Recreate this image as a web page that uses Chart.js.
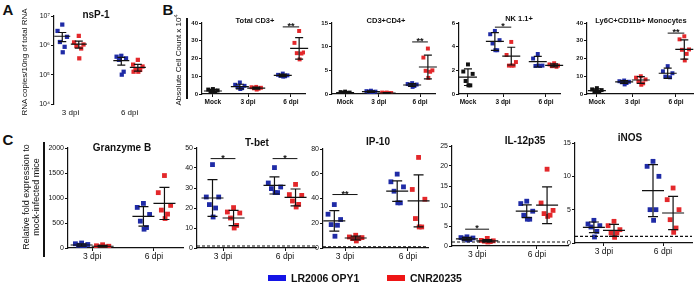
<!DOCTYPE html>
<html>
<head>
<meta charset="utf-8">
<script src="https://cdn.jsdelivr.net/npm/chart.js@4.4.1/dist/chart.umd.min.js"></script>
<style>
  body { margin: 0; background: #fff; }
  #fig { position: relative; width: 696px; height: 285px; overflow: hidden;
         font-family: "Liberation Sans", Arial, sans-serif; color: #111; }
  #fig canvas { position: absolute; }
  .t { position: absolute; font-weight: bold; white-space: nowrap; transform: translate(-50%, -50%); }
  .v { position: absolute; white-space: nowrap; text-align: center; line-height: 1.15;
       transform: translate(-50%, -50%) rotate(-90deg); }
  .bar { position: absolute; background: #111; }
  .key { position: absolute; }
</style>
</head>
<body>
<div id="fig"></div>
<script>
// ---- data ----
const dpiLabels = ['3 dpi', '6 dpi'];
const cellLabels = ['Mock', '3 dpi', '6 dpi'];
const strainNames = ['LR2006 OPY1', 'CNR20235'];

// A: nsP-1 (RNA copies / 10 ng)
const nsp1Blue = [[5.1e6, 3.1e6, 1.95e6, 1.3e6, 8.9e5, 5.8e5], [4.4e5, 4.1e5, 3.6e5, 3.2e5, 1.26e5, 1.0e5]];
const nsp1Red = [[2.1e6, 1.26e6, 1.07e6, 9.5e5, 7.8e5, 3.6e5], [3.2e5, 2.2e5, 1.9e5, 1.5e5, 1.45e5, 1.26e5, 1.26e5]];
const nsp1BlueMean = [2.04e6, 3.0e5], nsp1BlueErr = [0.7e6, 0.9e5];
const nsp1RedMean = [1.1e6, 1.78e5], nsp1RedErr = [0.3e6, 0.45e5];

// B: absolute cell counts x 10^4
const cd3Mock = [2.8, 2.5, 2.0, 1.5, 1.0, 0.6];
const cd3Blue = [[6.5, 5.2, 4.6, 3.9, 3.3, 2.8], [11.5, 10.8, 10.5, 10.2, 10.0, 9.8]];
const cd3Red = [[4.0, 3.8, 3.5, 3.2, 3.0, 2.5], [35.5, 28.8, 23.4, 23.0, 22.8, 19.5]];
const cd3Mean = [[1.7], [4.2, 10.5], [3.3, 25.7]], cd3Sd = [[0.9], [1.3, 0.7], [0.6, 6.1]];

const cd4Mock = [0.5, 0.4, 0.3, 0.2, 0.2, 0.1];
const cd4Blue = [[0.7, 0.6, 0.5, 0.5, 0.4, 0.3], [2.3, 2.1, 2.0, 1.9, 1.7, 1.5]];
const cd4Red = [[0.3, 0.3, 0.2, 0.2, 0.2, 0.1], [9.6, 7.7, 5.0, 4.9, 4.7, 3.4]];
const cd4Mean = [[0.3], [0.5, 1.9], [0.2, 5.7]], cd4Sd = [[0.15], [0.15, 0.3], [0.08, 2.5]];

const nkMock = [2.5, 1.9, 1.7, 1.1, 0.73, 0.73];
const nkBlue = [[5.33, 5.05, 4.55, 4.27, 3.7, 3.7], [3.38, 3.0, 2.4, 2.37, 2.37, 2.4]];
const nkRed = [[4.4, 3.3, 2.7, 2.4, 2.4, 2.4], [2.6, 2.5, 2.4, 2.35, 2.3, 2.4]];
const nkMean = [[1.42], [4.44, 2.73], [3.2, 2.42]], nkSd = [[0.7], [0.75, 0.45], [0.75, 0.12]];

const monoMock = [3.3, 2.6, 2.2, 1.6, 1.0, 0.6];
const monoBlue = [[7.6, 7.2, 6.9, 6.6, 6.2, 5.4], [15.7, 12.8, 11.7, 9.8, 9.4]];
const monoRed = [[10.0, 9.2, 8.2, 7.0, 6.0, 5.2], [32.5, 30.8, 25.1, 24.9, 22.6, 18.9]];
const monoMean = [[1.9], [6.8, 11.7], [7.9, 25.1]], monoSd = [[1.0], [0.8, 2.9], [1.9, 5.4]];

// C: relative fold expression
const gzmBlue = [[100, 85, 70, 55, 40, 30], [892, 812, 671, 537, 409, 376]];
const gzmRed = [[65, 45, 35, 25, 20, 15], [1449, 1107, 852, 758, 678, 590]];
const gzmMean = [[60, 631], [35, 892]], gzmSd = [[25, 195], [18, 322]];

const tbetBlue = [[41.7, 25.5, 25.5, 21.7, 20, 15.5], [40.2, 32.5, 30.5, 29.7, 27.7, 27.7]];
const tbetRed = [[20.2, 18, 17.5, 15, 11.3, 10], [31.8, 26.7, 26.3, 23.5, 21.8, 20.5]];
const tbetMean = [[25, 31.3], [15, 25.3]], tbetSd = [[9.2, 4.3], [3.8, 4.2]];

const ip10Blue = [[35.1, 27.3, 23, 18.9, 18.4, 9.5], [59.7, 53.5, 49.4, 45.9, 36.5, 36.5]];
const ip10Red = [[10.3, 8.9, 8.4, 7.6, 7.6, 5.7], [73.2, 47.3, 39.4, 23.8, 17, 17]];
const ip10Mean = [[21.9, 45.9], [8.1, 38.1]], ip10Sd = [[8.3, 8.3], [1.5, 21]];

const il12Blue = [[2.3, 2.1, 2.0, 1.8, 1.6, 1.5], [11.2, 10.6, 8.7, 7.7, 6.7, 6.7]];
const il12Red = [[1.9, 1.4, 1.3, 1.2, 1.1, 1.0], [19.2, 10.75, 8.9, 8.1, 7.7, 7.4]];
const il12Mean = [[1.8, 8.7], [1.3, 10.2]], il12Sd = [[0.35, 1.6], [0.3, 4.6]];

const inosBlue = [[3.4, 2.85, 2.6, 2.4, 1.75, 0.9], [12.25, 11.5, 10, 5, 5, 3.4]];
const inosRed = [[3.25, 2.6, 2.0, 1.5, 1.5, 0.85], [8.25, 6.5, 5.0, 3.5, 2.25, 1.6]];
const inosMean = [[2.35, 7.85], [1.9, 4.5]], inosSd = [[0.8, 3.9], [0.9, 2.5]];

// ---- styling ----
const BLUE = '#1f2ba6', RED = '#e3282b', BLACK = '#111';
const FONT = '"Liberation Sans", Arial, sans-serif';
const jitPattern = [0, -1, 1, -0.5, 0.5, 0.1, -0.9];

const fig = document.getElementById('fig');

function addText(cls, txt, x, y, size, extra) {
  const d = document.createElement('div');
  d.className = cls;
  d.innerHTML = txt;
  d.style.left = x + 'px';
  d.style.top = y + 'px';
  d.style.fontSize = size + 'px';
  if (extra) Object.assign(d.style, extra);
  fig.appendChild(d);
}

// error bars, mean lines, significance bars, dashed baseline
const decor = {
  id: 'decor',
  afterDatasetsDraw(chart, args, o) {
    const ctx = chart.ctx, xs = chart.scales.x, ys = chart.scales.y, a = chart.chartArea;
    ctx.save();
    ctx.strokeStyle = BLACK;
    ctx.lineWidth = 1.2;
    if (o.dashed != null) {
      ctx.setLineDash([3, 2]);
      const y = ys.getPixelForValue(o.dashed);
      ctx.beginPath(); ctx.moveTo(a.left, y); ctx.lineTo(a.right, y); ctx.stroke();
      ctx.setLineDash([]);
    }
    (o.bars || []).forEach(b => {
      const x = xs.getPixelForValue(b.x);
      const ym = ys.getPixelForValue(b.mean);
      const yt = ys.getPixelForValue(b.mean + b.sd);
      const yb = ys.getPixelForValue(Math.max(b.mean - b.sd, ys.min));
      ctx.beginPath();
      ctx.moveTo(x - o.meanW, ym); ctx.lineTo(x + o.meanW, ym);
      ctx.moveTo(x, yt); ctx.lineTo(x, yb);
      ctx.moveTo(x - o.capW, yt); ctx.lineTo(x + o.capW, yt);
      ctx.moveTo(x - o.capW, yb); ctx.lineTo(x + o.capW, yb);
      ctx.stroke();
    });
    (o.sig || []).forEach(s => {
      const x1 = xs.getPixelForValue(s.x1), x2 = xs.getPixelForValue(s.x2);
      const y = ys.getPixelForValue(s.y);
      ctx.lineWidth = 1;
      ctx.beginPath(); ctx.moveTo(x1, y); ctx.lineTo(x2, y); ctx.stroke();
      ctx.fillStyle = BLACK;
      ctx.font = 'bold 9px ' + FONT;
      ctx.textAlign = 'center';
      ctx.textBaseline = 'alphabetic';
      ctx.fillText(s.text, (x1 + x2) / 2, y + 2);
    });
    ctx.restore();
  }
};

function makePanel(p) {
  const yw = 26, padTop = 7, padRight = 4;
  const cv = document.createElement('canvas');
  const w = yw + (p.R - p.L) + padRight, h = padTop + (p.B - p.T) + p.xh;
  cv.style.left = (p.L - yw) + 'px';
  cv.style.top = (p.T - padTop) + 'px';
  cv.style.width = w + 'px';
  cv.style.height = h + 'px';
  cv.width = w; cv.height = h;
  fig.appendChild(cv);

  const datasets = [], bars = [];
  p.series.forEach(s => {
    const pts = [];
    s.data.forEach((vals, gi) => {
      const gx = p.groupsX[s.groups[gi]] + s.off;
      vals.forEach((v, i) => pts.push({ x: gx + jitPattern[i % jitPattern.length] * p.jit, y: v }));
      bars.push({ x: gx, mean: s.mean[gi], sd: s.sd[gi] });
    });
    datasets.push({ data: pts, backgroundColor: s.color, borderColor: s.color, borderWidth: 0,
                    pointStyle: 'rect', pointRadius: p.radius, pointHoverRadius: p.radius });
  });

  new Chart(cv, {
    type: 'scatter',
    data: { datasets },
    plugins: [decor],
    options: {
      responsive: false, animation: false, devicePixelRatio: 1,
      layout: { padding: { top: padTop, right: padRight, left: 0, bottom: 0 } },
      plugins: {
        legend: { display: false }, tooltip: { enabled: false },
        decor: { bars, sig: p.sig, dashed: p.dashed, meanW: p.meanW, capW: p.capW }
      },
      scales: {
        x: {
          type: 'linear', min: p.xmin, max: p.xmax,
          afterBuildTicks: sc => { sc.ticks = p.groupsX.map(v => ({ value: v })); },
          afterFit: sc => { sc.height = p.xh; },
          ticks: { autoSkip: false, maxRotation: 0, padding: 1, color: BLACK,
                   font: { family: FONT, size: p.xFont, weight: p.xWeight },
                   callback: (v, i) => p.labels[i] },
          grid: { display: p.xAxis, drawOnChartArea: false, tickLength: 3, color: BLACK, lineWidth: 1 },
          border: { display: p.xAxis, color: BLACK, width: 1.2 }
        },
        y: {
          type: p.log ? 'logarithmic' : 'linear', min: p.ymin, max: p.ymax,
          afterBuildTicks: sc => {
            const t = [];
            if (p.log) { for (let v = p.ymin; v <= p.ymax * 1.01; v *= 10) t.push({ value: v }); }
            else { for (let v = p.ymin; v <= p.ymax + 1e-9; v += p.step) t.push({ value: v }); }
            sc.ticks = t;
          },
          afterFit: sc => { sc.width = yw; },
          ticks: { padding: 1, color: BLACK, font: { family: FONT, size: p.yFont, weight: p.yWeight },
                   callback: p.yFmt || (v => v) },
          grid: { drawOnChartArea: false, tickLength: 3, color: BLACK, lineWidth: 1 },
          border: { color: BLACK, width: 1.2 }
        }
      }
    }
  });
}

const sup = { 4: '10\u2074', 5: '10\u2075', 6: '10\u2076', 7: '10\u2077' };

// ---- panel A ----
makePanel({
  L: 54, T: 16, B: 104, R: 152, xh: 16, xmin: 0.72, xmax: 2.38, groupsX: [1, 2], labels: dpiLabels,
  log: true, ymin: 1e4, ymax: 1e7, yFmt: v => sup[Math.round(Math.log10(v))],
  xAxis: false, xFont: 8, xWeight: 'normal', yFont: 7, yWeight: 'normal',
  radius: 3, jit: 0.08, meanW: 8, capW: 4,
  series: [
    { data: nsp1Blue, groups: [0, 1], off: -0.14, color: BLUE, mean: nsp1BlueMean, sd: nsp1BlueErr },
    { data: nsp1Red, groups: [0, 1], off: 0.14, color: RED, mean: nsp1RedMean, sd: nsp1RedErr }
  ]
});

// ---- panel B ----
function cellPanel(L, R, xmin, xmax, ymax, step, mock, blue, red, mean, sd, sig) {
  makePanel({
    L, T: 23, B: 94, R, xh: 13, xmin, xmax, groupsX: [0, 0.9, 2], labels: cellLabels,
    ymin: 0, ymax, step, xAxis: true, xFont: 6.5, xWeight: 'bold', yFont: 6, yWeight: 'bold',
    radius: 2.8, jit: 0.12, meanW: 9, capW: 4, sig,
    series: [
      { data: [mock], groups: [0], off: 0, color: BLACK, mean: mean[0], sd: sd[0] },
      { data: blue, groups: [1, 2], off: -0.21, color: BLUE, mean: mean[1], sd: sd[1] },
      { data: red, groups: [1, 2], off: 0.21, color: RED, mean: mean[2], sd: sd[2] }
    ]
  });
}
cellPanel(202, 305, -0.28, 2.36, 40, 10, cd3Mock, cd3Blue, cd3Red, cd3Mean, cd3Sd,
  [{ x1: 1.79, x2: 2.21, y: 37.8, text: '**' }]);
cellPanel(332, 435, -0.35, 2.4, 15, 5, cd4Mock, cd4Blue, cd4Red, cd4Mean, cd4Sd,
  [{ x1: 1.79, x2: 2.21, y: 11, text: '**' }]);
cellPanel(459, 560, -0.23, 2.36, 6, 2, nkMock, nkBlue, nkRed, nkMean, nkSd,
  [{ x1: 0.69, x2: 1.11, y: 5.65, text: '*' }]);
cellPanel(587, 693, -0.25, 2.43, 40, 10, monoMock, monoBlue, monoRed, monoMean, monoSd,
  [{ x1: 1.79, x2: 2.21, y: 34.3, text: '**' }]);

// ---- panel C ----
function genePanel(L, T, B, R, xmin, xmax, ymax, step, blue, red, mean, sd, sig, dashed) {
  makePanel({
    L, T, B, R, xh: 16, xmin, xmax, groupsX: [1, 2], labels: dpiLabels,
    ymin: 0, ymax, step, xAxis: true, xFont: 8.5, xWeight: 'normal', yFont: 7, yWeight: 'normal',
    radius: 3.4, jit: 0.1, meanW: 11, capW: 5, sig, dashed,
    series: [
      { data: blue, groups: [0, 1], off: -0.17, color: BLUE, mean: mean[0], sd: sd[0] },
      { data: red, groups: [0, 1], off: 0.17, color: RED, mean: mean[1], sd: sd[1] }
    ]
  });
}
genePanel(68, 148, 248, 183, 0.61, 2.47, 2000, 500, gzmBlue, gzmRed, gzmMean, gzmSd, [], null);
genePanel(197, 148, 248, 316, 0.58, 2.5, 50, 10, tbetBlue, tbetRed, tbetMean, tbetSd,
  [{ x1: 0.8, x2: 1.2, y: 44.7, text: '*' }, { x1: 1.8, x2: 2.2, y: 44.7, text: '*' }], 1);
genePanel(323, 149, 248, 428, 0.65, 2.32, 80, 20, ip10Blue, ip10Red, ip10Mean, ip10Sd,
  [{ x1: 0.8, x2: 1.2, y: 43.2, text: '**' }], 1);
genePanel(452, 146, 246, 568, 0.58, 2.52, 25, 5, il12Blue, il12Red, il12Mean, il12Sd,
  [{ x1: 0.8, x2: 1.2, y: 4.2, text: '*' }], 1);
genePanel(575, 143, 243, 692, 0.51, 2.49, 15, 5, inosBlue, inosRed, inosMean, inosSd, [], 1);

// ---- text, panel letters, side titles, legend ----
addText('t', 'A', 8, 9, 15);
addText('t', 'B', 168, 9, 15);
addText('t', 'C', 8, 139, 15);

addText('t', 'nsP-1', 96, 14, 10);
addText('t', 'Total CD3+', 255, 20, 7.5);
addText('t', 'CD3+CD4+', 386, 20, 7.5);
addText('t', 'NK 1.1+', 519, 18, 7.5);
addText('t', 'Ly6C+CD11b+ Monocytes', 641, 20, 7.5);
addText('t', 'Granzyme B', 122, 147, 10);
addText('t', 'T-bet', 257, 142, 10);
addText('t', 'IP-10', 378, 141, 10);
addText('t', 'IL-12p35', 525, 140, 10);
addText('t', 'iNOS', 630, 137, 10);

addText('v', 'RNA copies/10ng of total RNA', 25, 62, 8);
addText('v', 'Absolute Cell Count x 10<sup style="font-size:5.5px">4</sup>', 178, 60, 8);
addText('v', 'Relative fold expression to<br>mock-infected mice', 31, 197, 9);

[[186, 18, 2, 81], [43, 142, 1.5, 115]].forEach(b => {
  const d = document.createElement('div');
  d.className = 'bar';
  Object.assign(d.style, { left: b[0] + 'px', top: b[1] + 'px', width: b[2] + 'px', height: b[3] + 'px' });
  fig.appendChild(d);
});

[[268, '#1414e6', strainNames[0]], [387, '#ee1515', strainNames[1]]].forEach(k => {
  const sw = document.createElement('div');
  sw.className = 'key';
  Object.assign(sw.style, { left: k[0] + 'px', top: '275px', width: '18px', height: '6px', background: k[1] });
  fig.appendChild(sw);
  addText('t', k[2], k[0] + 23, 278, 10.5, { transform: 'translate(0,-50%)' });
});
</script>
</body>
</html>
